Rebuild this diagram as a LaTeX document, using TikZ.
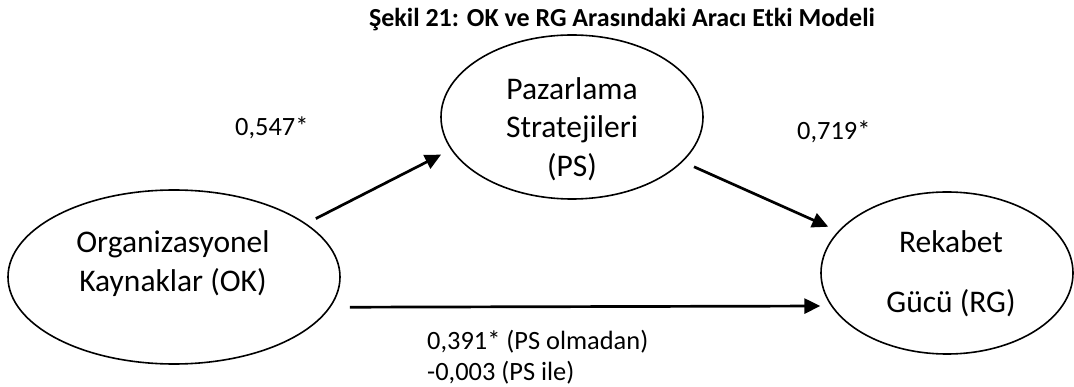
\documentclass[tikz,border=0pt]{standalone}
\usepackage{fontspec}
\setmainfont{Carlito}
\usetikzlibrary{arrows.meta,shapes.geometric}
\begin{document}
\begin{tikzpicture}[x=1pt,y=-1pt,
  construct/.style={draw, ellipse, line width=1.6pt, inner sep=0pt, outer sep=0pt},
  nodetext/.style={anchor=base, inner sep=0pt, font=\fontsize{31.5}{38}\selectfont},
  coef/.style={anchor=base west, inner sep=0pt, font=\fontsize{26.4}{31}\selectfont},
  effect/.style={line width=2.7pt, -{Triangle[length=16pt,width=15pt]}},
]
\useasboundingbox (0,0) rectangle (1074,387);

% caption
\node[anchor=base, inner sep=0pt, font=\bfseries\fontsize{26}{30}\selectfont] (title) at (622,27)
  {Şekil 21: OK ve RG Arasındaki Aracı Etki Modeli};

% constructs
\node[construct, minimum width=332pt, minimum height=174pt] (ok) at (174,277) {};
\node[construct, minimum width=262pt, minimum height=164pt] (ps) at (572,117) {};
\node[construct, minimum width=252pt, minimum height=162pt] (rg) at (947,273) {};

\node[nodetext] (ok1) at (173,253) {Organizasyonel};
\node[nodetext] (ok2) at (173,292) {Kaynaklar (OK)};
\node[nodetext] (ps1) at (572,100) {Pazarlama};
\node[nodetext] (ps2) at (572,138) {Stratejileri};
\node[nodetext] (ps3) at (572,177) {(PS)};
\node[nodetext] (rg1) at (951,253) {Rekabet};
\node[nodetext] (rg2) at (951,313) {Gücü (RG)};

% paths
\draw[effect, shorten <=11.7pt, shorten >=11.8pt] (ok.22.4) -- (ps.195.8);
\draw[effect, shorten <=13.1pt, shorten >=11.6pt] (ps.338.7) -- (rg.159.9);
\draw[effect, shorten <=20.2pt, shorten >=11.6pt] (ok.349.1) -- (rg.196.55);

% coefficients
\node[coef] (a) at (235,136) {0,547*};
\node[coef] (b) at (797,140) {0,719*};
\node[coef] (c1) at (427,350) {0,391* (PS olmadan)};
\node[coef] (c2) at (427,381) {-0,003 (PS ile)};
\end{tikzpicture}
\end{document}
